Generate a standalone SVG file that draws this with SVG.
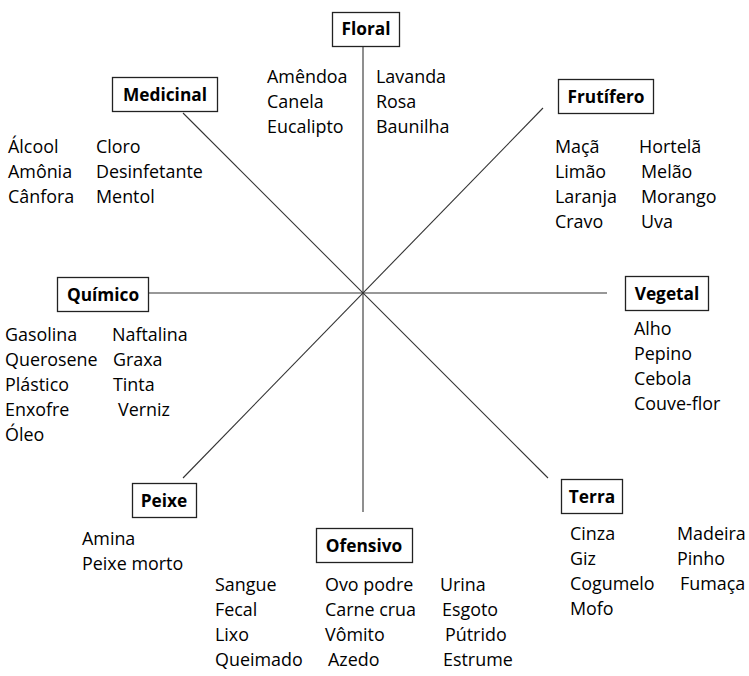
<svg xmlns="http://www.w3.org/2000/svg" width="749" height="676" viewBox="0 0 749 676">
<style>
.box{fill:#fff;stroke:#222;stroke-width:1.3}
.lbl{font-family:"Open Sans","Liberation Sans",sans-serif;font-weight:bold;font-size:17.3px;fill:#000;text-anchor:middle}
.t{font-family:"Open Sans","Liberation Sans",sans-serif;font-size:17.9px;fill:#000}
.ln{stroke:#333;stroke-width:1.1;fill:none}
</style>
<rect width="749" height="676" fill="#fff"/>
<g id="connectors">
<line class="ln" x1="363" y1="46" x2="363" y2="512"/>
<line class="ln" x1="148" y1="293" x2="607" y2="293"/>
<line class="ln" x1="183" y1="113" x2="548" y2="478"/>
<line class="ln" x1="543" y1="108" x2="183" y2="478"/>
</g>
<g id="floral">
<rect class="box" x="332.5" y="12.5" width="67" height="34"/>
<text class="lbl" x="366" y="35">Floral</text>
<text class="t" x="267" y="83">Amêndoa</text>
<text class="t" x="267" y="108">Canela</text>
<text class="t" x="267" y="133">Eucalipto</text>
<text class="t" x="376" y="83">Lavanda</text>
<text class="t" x="376" y="108">Rosa</text>
<text class="t" x="376" y="133">Baunilha</text>
</g>
<g id="medicinal">
<rect class="box" x="112.5" y="77.5" width="105" height="34"/>
<text class="lbl" x="165" y="101">Medicinal</text>
<text class="t" x="8" y="153">Álcool</text>
<text class="t" x="8" y="178">Amônia</text>
<text class="t" x="8" y="203">Cânfora</text>
<text class="t" x="96" y="153">Cloro</text>
<text class="t" x="96" y="178">Desinfetante</text>
<text class="t" x="96" y="203">Mentol</text>
</g>
<g id="frutifero">
<rect class="box" x="558.5" y="79.5" width="95" height="34"/>
<text class="lbl" x="606" y="103">Frutífero</text>
<text class="t" x="555" y="153">Maçã</text>
<text class="t" x="555" y="178">Limão</text>
<text class="t" x="555" y="203">Laranja</text>
<text class="t" x="555" y="228">Cravo</text>
<text class="t" x="639" y="153">Hortelã</text>
<text class="t" x="641" y="178">Melão</text>
<text class="t" x="641" y="203">Morango</text>
<text class="t" x="641" y="228">Uva</text>
</g>
<g id="quimico">
<rect class="box" x="57.5" y="277.5" width="91" height="34"/>
<text class="lbl" x="103" y="301">Químico</text>
<text class="t" x="5" y="341">Gasolina</text>
<text class="t" x="5" y="366">Querosene</text>
<text class="t" x="5" y="391">Plástico</text>
<text class="t" x="5" y="416">Enxofre</text>
<text class="t" x="5" y="441">Óleo</text>
<text class="t" x="112" y="341">Naftalina</text>
<text class="t" x="113" y="366">Graxa</text>
<text class="t" x="113" y="391">Tinta</text>
<text class="t" x="118" y="416">Verniz</text>
</g>
<g id="vegetal">
<rect class="box" x="625.5" y="276.5" width="83" height="34"/>
<text class="lbl" x="667" y="300">Vegetal</text>
<text class="t" x="634" y="335">Alho</text>
<text class="t" x="634" y="360">Pepino</text>
<text class="t" x="634" y="385">Cebola</text>
<text class="t" x="634" y="410">Couve-flor</text>
</g>
<g id="peixe">
<rect class="box" x="132.5" y="483.5" width="64" height="34"/>
<text class="lbl" x="164" y="507">Peixe</text>
<text class="t" x="82" y="545">Amina</text>
<text class="t" x="82" y="570">Peixe morto</text>
</g>
<g id="ofensivo">
<rect class="box" x="316.5" y="528.5" width="96" height="34"/>
<text class="lbl" x="364" y="552">Ofensivo</text>
<text class="t" x="215" y="591">Sangue</text>
<text class="t" x="215" y="616">Fecal</text>
<text class="t" x="215" y="641">Lixo</text>
<text class="t" x="215" y="666">Queimado</text>
<text class="t" x="325" y="591">Ovo podre</text>
<text class="t" x="325" y="616">Carne crua</text>
<text class="t" x="325" y="641">Vômito</text>
<text class="t" x="328" y="666">Azedo</text>
<text class="t" x="440" y="591">Urina</text>
<text class="t" x="442" y="616">Esgoto</text>
<text class="t" x="445" y="641">Pútrido</text>
<text class="t" x="443" y="666">Estrume</text>
</g>
<g id="terra">
<rect class="box" x="561.5" y="479.5" width="61" height="34"/>
<text class="lbl" x="592" y="503">Terra</text>
<text class="t" x="570" y="540">Cinza</text>
<text class="t" x="570" y="565">Giz</text>
<text class="t" x="570" y="590">Cogumelo</text>
<text class="t" x="570" y="615">Mofo</text>
<text class="t" x="677" y="540">Madeira</text>
<text class="t" x="677" y="565">Pinho</text>
<text class="t" x="680" y="590">Fumaça</text>
</g>
</svg>
